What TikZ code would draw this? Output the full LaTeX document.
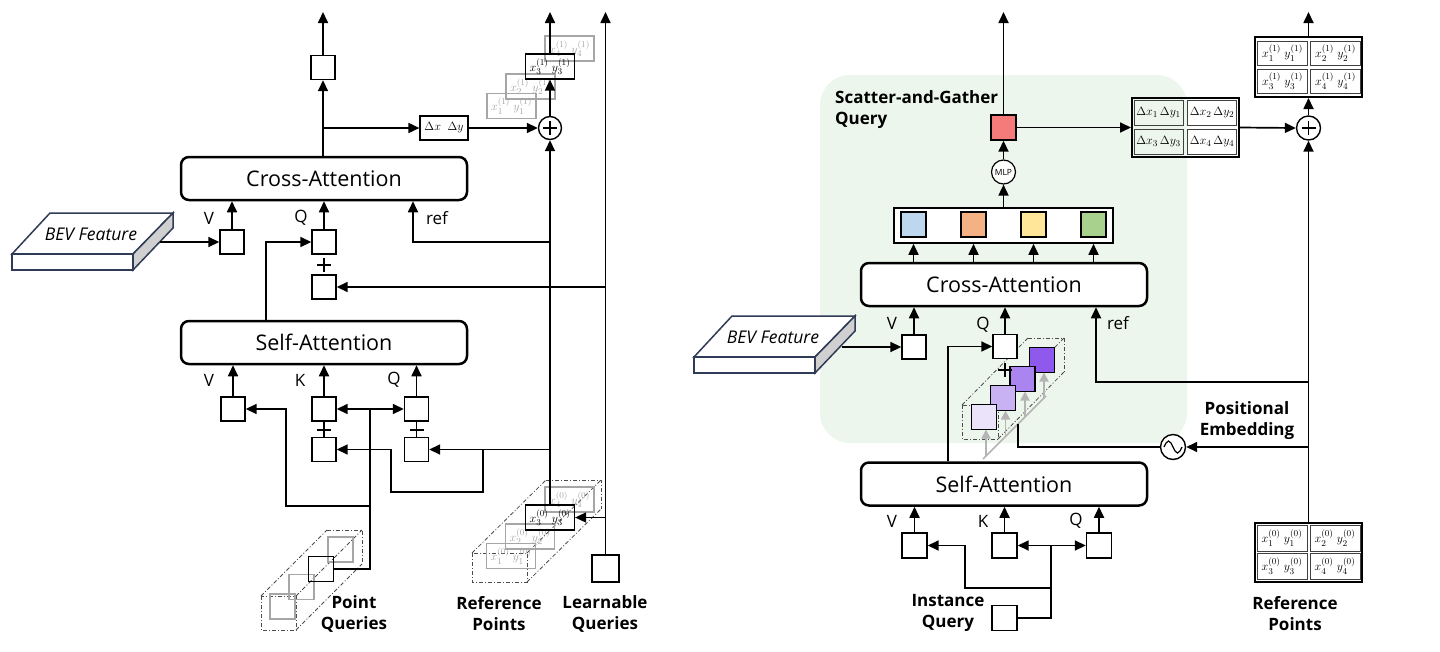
\documentclass[tikz,border=0pt]{standalone}
\usepackage{fontspec}
\newfontfamily\lab{Open Sans}
\usetikzlibrary{arrows.meta,calc}
\definecolor{bggreen}{HTML}{EDF6EC}
\definecolor{redq}{HTML}{F57B7B}
\definecolor{bq}{HTML}{BDD7EE}
\definecolor{oq}{HTML}{F4B183}
\definecolor{yq}{HTML}{FFE699}
\definecolor{gq}{HTML}{A9D18E}
\definecolor{pa}{HTML}{EAE3FA}
\definecolor{pb}{HTML}{C9B2F3}
\definecolor{pc}{HTML}{AB85EF}
\definecolor{pd}{HTML}{8E59EC}
\definecolor{ltgray}{HTML}{A6A6A6}
\definecolor{garr}{HTML}{B4B4B4}
\definecolor{sidegray}{HTML}{D0D0D0}
\definecolor{slab}{HTML}{2F3B57}
\tikzset{
 ln/.style={line width=1.7pt},
 arr/.style={line width=1.7pt,-{Triangle[length=11pt,width=10pt]}},
 darr/.style={line width=1.7pt,{Triangle[length=11pt,width=10pt]}-{Triangle[length=11pt,width=10pt]}},
 attn/.style={draw,line width=2.5pt,rounded corners=8pt,minimum width=286pt,minimum height=43pt,inner sep=0pt,font=\lab\fontsize{21.5}{25}\selectfont,fill=white},
 sq/.style={draw,line width=1.4pt,minimum size=24pt,inner sep=0pt,fill=white},
 gsq/.style={draw=ltgray,line width=1.4pt,minimum size=25pt,inner sep=0pt},
 bsq/.style={draw,line width=1.4pt,minimum size=25pt,inner sep=0pt},
 lbl/.style={font=\lab\fontsize{17}{20}\selectfont,inner sep=0pt},
 blbl/.style={font=\lab\bfseries\fontsize{17}{21}\selectfont,align=center,inner sep=0pt},
 cbox/.style={draw,line width=1.2pt,minimum width=49pt,minimum height=25pt,inner sep=0pt,font=\fontsize{13}{14}\selectfont},
 gbox/.style={cbox,draw=ltgray,text=ltgray},
 cell/.style={draw=black!75,line width=1pt,minimum width=50pt,minimum height=24pt,inner sep=0pt,font=\fontsize{13}{14}\selectfont},
 ddot/.style={draw=black!70,line width=0.8pt,dash pattern=on 4pt off 2pt on 1pt off 2pt},
 pls/.style={line width=1.7pt},
 bev/.style={draw=slab,line width=1.5pt,fill=white},
 garrow/.style={line width=1.8pt,garr,-{Triangle[length=9pt,width=9pt]}},
}
\newcommand{\xy}[2]{$x_{#1}^{(#2)}\;y_{#1}^{(#2)}$}
\newcommand{\dxy}[1]{$\Delta x_{#1}\,\Delta y_{#1}$}
\begin{document}
\begin{tikzpicture}[x=1pt,y=-1pt]
\useasboundingbox (0,0) rectangle (1440,651);
% ================= RIGHT BACKGROUND =================
\fill[bggreen,rounded corners=30pt] (820,75) rectangle (1187,443);
% ================= LEFT DIAGRAM =================
\node[attn] (caL) at (324,178.5) {Cross-Attention};
\node[attn] (saL) at (324,342.5) {Self-Attention};
\node[sq] (outL) at (323,67.5) {};
\coordinate (tA) at (323,12);
\draw[arr] (caL.north -| outL) -- (outL.south);
\draw[arr] (outL.north) -- (tA);
\node[draw,line width=1.2pt,minimum width=48pt,minimum height=24pt,inner sep=0pt,font=\fontsize{13}{14}\selectfont] (dL) at (444,128) {$\Delta x\;\;\Delta y$};
\coordinate (brL) at (323,128);
\draw[arr] (brL) -- (dL.west);
\node[circle,draw,line width=1.4pt,minimum size=23pt,inner sep=0pt] (plL) at (550,128) {};
\draw[pls] ($(plL)+(-7,0)$) -- ($(plL)+(7,0)$) ($(plL)+(0,-7)$) -- ($(plL)+(0,7)$);
\draw[arr] (dL.east) -- (plL.west);
% stack (1)
\node[gbox] (a1) at (511.5,106) {\xy{1}{1}};
\node[gbox] (a2) at (530.5,86.5) {\xy{2}{1}};
\node[gbox] (a4) at (569.5,48.5) {\xy{4}{1}};
\node[cbox] (a3) at (550,66.5) {\xy{3}{1}};
\coordinate (tB) at (550,12);
\draw[arr] (plL.north) -- (a3.south);
\draw[arr] (a3.north) -- (tB);
% stack (0)
\draw[ddot] (472,553) rectangle (527,582);
\draw[ddot] (546,480) -- (601,480) -- (601,509);
\draw[ddot] (472,553) -- (546,480) (527,553) -- (601,480) (527,582) -- (601,509);
\node[gbox] (b1) at (511,556) {\xy{1}{0}};
\node[gbox] (b2) at (530,536.5) {\xy{2}{0}};
\node[gbox] (b4) at (569.5,499.5) {\xy{4}{0}};
\node[cbox] (b3) at (550,517.5) {\xy{3}{0}};
% learnable queries
\node[draw,line width=1.4pt,minimum size=27pt,inner sep=0pt] (lq) at (605.5,568.5) {};
\coordinate (tC) at (605.5,12);
\draw[arr] (lq.north) -- (tC);
\draw[arr] (lq.north |- b3.east) -- (b3.east);
\draw[arr] (b3.north) -- (plL.south);
% cross-attn inputs
\node[sq] (vCA) at (232,242) {};
\node[sq] (qCA) at (324,242) {};
\node[sq] (qCA2) at (324,287) {};
\draw[arr] (vCA.north) -- (vCA.north |- caL.south);
\draw[arr] (qCA.north) -- (caL.south);
\draw[pls] (324,258) -- (324,272) (317,265) -- (331,265);
\draw[arr] (lq.north |- qCA2.east) -- (qCA2.east);
\draw[arr] (b3.north |- qCA) -| ([xshift=89pt]caL.south);
\draw[arr] ([xshift=-58pt]saL.north) |- (qCA.west);
\node[lbl] (lv1) at (209,218) {V};
\node[lbl] (lq1) at (301,218) {Q};
\node[lbl] (lr1) at (437,218) {ref};
% BEV left
\draw[bev] (12,254) -- (133,254) -- (173,213) -- (50,213) -- cycle;
\draw[bev] (12,254) rectangle (133,270);
\draw[bev,fill=sidegray] (133,254) -- (173,213) -- (173,228) -- (133,270) -- cycle;
\node[font=\lab\itshape\fontsize{17.5}{20}\selectfont] (bevL) at (91,234) {BEV Feature};
\coordinate (bevLo) at (160,242);
\draw[arr] (bevLo) -- (vCA.west);
% self-attn inputs
\node[sq] (vSA) at (233,409) {};
\node[sq] (kSA) at (324,409) {};
\node[sq] (qSA) at (416.5,409) {};
\node[sq] (kSA2) at (324,449.5) {};
\node[sq] (qSA2) at (416.5,449.5) {};
\draw[arr] (vSA.north) -- (vSA.north |- saL.south);
\draw[arr] (kSA.north) -- (saL.south);
\draw[arr] (qSA.north) -- (qSA.north |- saL.south);
\draw[pls] (324,422) -- (324,437) (317,430) -- (331,430);
\draw[pls] (416.5,422) -- (416.5,437) (409.5,430) -- (423.5,430);
\node[lbl] (lv2) at (209,380) {V};
\node[lbl] (lk2) at (300,380) {K};
\node[lbl] (lq2) at (394,380) {Q};
\draw[darr] (kSA.east) -- (qSA.west);
% point queries
\draw[ddot] (261,596) rectangle (296,630);
\draw[ddot] (327,530) -- (362,530) -- (362,564);
\draw[ddot] (261,596) -- (327,530) (296,596) -- (362,530) (296,630) -- (362,564);
\node[gsq] (pq1) at (282.5,606.5) {};
\node[gsq] (pq2) at (301.5,587) {};
\node[gsq] (pq4) at (340.5,549.5) {};
\node[bsq] (pq3) at (321,569) {};
\coordinate (jk) at (370,409);
\draw[ln] (jk) |- (pq3.east);
\draw[arr] (370,506) -| (286,409) -- (vSA.east);
\draw[arr] (b3.north |- qSA2.east) -- (qSA2.east);
\draw[arr] (483,449.5) -- (483,492) -- (391,492) -- (391,449.5) -- (kSA2.east);
\node[blbl] (tpq) at (354,614) {Point\\Queries};
\node[blbl] (trp) at (499,614) {Reference\\Points};
\node[blbl] (tlq) at (605,614) {Learnable\\Queries};
% ================= RIGHT DIAGRAM =================
\node[blbl,align=left,anchor=west] (tsg) at (835,110) {Scatter-and-Gather\\Query};
\node[attn] (caR) at (1004,284.5) {Cross-Attention};
\node[attn] (saR) at (1004,484) {Self-Attention};
\node[bsq,fill=redq] (red) at (1003.5,127.5) {};
\coordinate (tD) at (1003.5,12);
\draw[arr] (red.north) -- (tD);
\node[circle,draw,line width=1.2pt,minimum size=24pt,inner sep=0pt,font=\lab\fontsize{8.5}{9}\selectfont,fill=white] (mlp) at (1003.5,172) {MLP};
\draw[arr] (mlp.north) -- (red.south);
\node[draw,line width=1.6pt,minimum width=219pt,minimum height=35pt,inner sep=0pt,fill=white] (feat) at (1003.5,225.5) {};
\draw[arr] (feat.north) -- (mlp.south);
\node[bsq,fill=bq] (f1) at (913.5,224.5) {};
\node[bsq,fill=oq] (f2) at (973.5,224.5) {};
\node[bsq,fill=yq] (f3) at (1033.5,224.5) {};
\node[bsq,fill=gq] (f4) at (1093.5,224.5) {};
\foreach \f in {f1,f2,f3,f4} \draw[arr] (\f |- caR.north) -- (\f |- feat.south);
% delta box
\node[draw,line width=2pt,minimum width=107pt,minimum height=59pt,inner sep=0pt] (dR) at (1185.5,127.5) {};
\node[cell,minimum width=49pt,minimum height=25pt,font=\fontsize{12.5}{13}\selectfont] (d1) at (1158.5,112.5) {\dxy{1}};
\node[cell,minimum width=49pt,minimum height=25pt,font=\fontsize{12.5}{13}\selectfont] (d2) at (1212,112.5) {\dxy{2}};
\node[cell,minimum width=49pt,minimum height=25pt,font=\fontsize{12.5}{13}\selectfont] (d3) at (1158.5,141.5) {\dxy{3}};
\node[cell,minimum width=49pt,minimum height=25pt,font=\fontsize{12.5}{13}\selectfont] (d4) at (1212,141.5) {\dxy{4}};
\draw[arr] (red.east) -- (dR.west);
\node[circle,draw,line width=1.4pt,minimum size=24pt,inner sep=0pt] (plR) at (1308.5,128) {};
\draw[pls] ($(plR)+(-7,0)$) -- ($(plR)+(7,0)$) ($(plR)+(0,-7)$) -- ($(plR)+(0,7)$);
\draw[arr] (dR.east) -- (plR.west);
% out box
\node[draw,line width=2pt,minimum width=107pt,minimum height=60pt,inner sep=0pt] (oR) at (1308.5,67) {};
\node[cell] (o1) at (1282.5,53) {\xy{1}{1}};
\node[cell] (o2) at (1335.5,53) {\xy{2}{1}};
\node[cell] (o3) at (1282.5,81) {\xy{3}{1}};
\node[cell] (o4) at (1335.5,81) {\xy{4}{1}};
\coordinate (tE) at (1308.5,12);
\draw[arr] (plR.north) -- (oR.south);
\draw[arr] (oR.north) -- (tE);
% ref box
\node[draw,line width=2pt,minimum width=107pt,minimum height=59pt,inner sep=0pt] (rR) at (1308.5,552.5) {};
\node[cell,minimum height=26pt] (r1) at (1282,538) {\xy{1}{0}};
\node[cell,minimum height=26pt] (r2) at (1335,538) {\xy{2}{0}};
\node[cell,minimum height=26pt] (r3) at (1282,566) {\xy{3}{0}};
\node[cell,minimum height=26pt] (r4) at (1335,566) {\xy{4}{0}};
\draw[arr] (rR.north) -- (plR.south);
\node[blbl] (trr) at (1295,614) {Reference\\Points};
\coordinate (jr1) at (1308.5,382);
\draw[arr] (jr1) -| ([xshift=92pt]caR.south);
\node[lbl] (lr3) at (1118,323) {ref};
% positional embedding
\node[circle,draw,line width=1.4pt,minimum size=25pt,inner sep=0pt,fill=white] (sine) at (1173,447) {};
\draw[line width=1.2pt] (1164,447) sin (1168.5,441) cos (1173,447) sin (1177.5,453) cos (1182,447);
\coordinate (jr2) at (1308.5,447);
\draw[arr] (jr2) -- (sine.east);
\node[blbl] (tpe) at (1247,421) {Positional\\Embedding};
% purple stack
\draw[ddot] (962,405) rectangle (998,439);
\draw[ddot] (1028,338) -- (1064,338) -- (1064,372);
\draw[ddot] (962,405) -- (1028,338) (998,405) -- (1064,338) (998,439) -- (1064,372);
\draw[line width=1.6pt,garr] (983,459) -- (1046,396);
\draw[ln] (sine.west) -- (1018,447) -- (1018,424);
\node[bsq,fill=pd] (u4) at (1042,360) {};
\node[bsq,fill=pc] (u3) at (1022.5,379) {};
\node[bsq,fill=pb] (u2) at (1003,398) {};
\node[bsq,fill=pa] (u1) at (984,417) {};
\draw[garrow] (986,456) -- (986,429.5);
\draw[garrow] (1005.5,436.5) -- (1005.5,410.5);
\draw[garrow] (1025,417) -- (1025,391.5);
\draw[garrow] (1044,398) -- (1044,372.5);
% CA right inputs
\node[sq] (qCR) at (1005,346.5) {};
\draw[arr] (qCR.north) -- (qCR.north |- caR.south);
\draw[pls] (1005,363) -- (1005,377) (998,370) -- (1012,370);
\draw[arr] ([xshift=-56pt]saR.north) |- (qCR.west);
\node[sq] (vCR) at (914,347) {};
\draw[arr] (vCR.north) -- (vCR.north |- caR.south);
\node[lbl] (lv3) at (892,323) {V};
\node[lbl] (lq3) at (983,325) {Q};
% BEV right
\draw[bev] (694,357) -- (815,357) -- (855,316) -- (732,316) -- cycle;
\draw[bev] (694,357) rectangle (815,373);
\draw[bev,fill=sidegray] (815,357) -- (855,316) -- (855,331) -- (815,373) -- cycle;
\node[font=\lab\itshape\fontsize{17.5}{20}\selectfont] (bevR) at (773,337) {BEV Feature};
\coordinate (bevRo) at (842,347);
\draw[arr] (bevRo) -- (vCR.west);
% SA right inputs
\node[sq,minimum size=25pt] (vSR) at (914.5,545.5) {};
\node[sq,minimum size=25pt] (kSR) at (1004.5,545.5) {};
\node[sq,minimum size=25pt] (qSR) at (1099,545.5) {};
\draw[arr] (vSR.north) -- (vSR.north |- saR.south);
\draw[arr] (kSR.north) -- (kSR.north |- saR.south);
\draw[arr] (qSR.north) -- (qSR.north |- saR.south);
\node[lbl] (lv4) at (892,521) {V};
\node[lbl] (lk4) at (983,521) {K};
\node[lbl] (lq4) at (1076,521) {Q};
\draw[darr] (kSR.east) -- (qSR.west);
\node[sq,minimum size=25pt] (iq) at (1004.5,618) {};
\coordinate (ji) at (1051,545.5);
\draw[ln] (ji) |- (iq.east);
\draw[arr] (1051,588) -| (965,545.5) -- (vSR.east);
\node[blbl] (tiq) at (948,613) {Instance\\Query};
\end{tikzpicture}
\end{document}
